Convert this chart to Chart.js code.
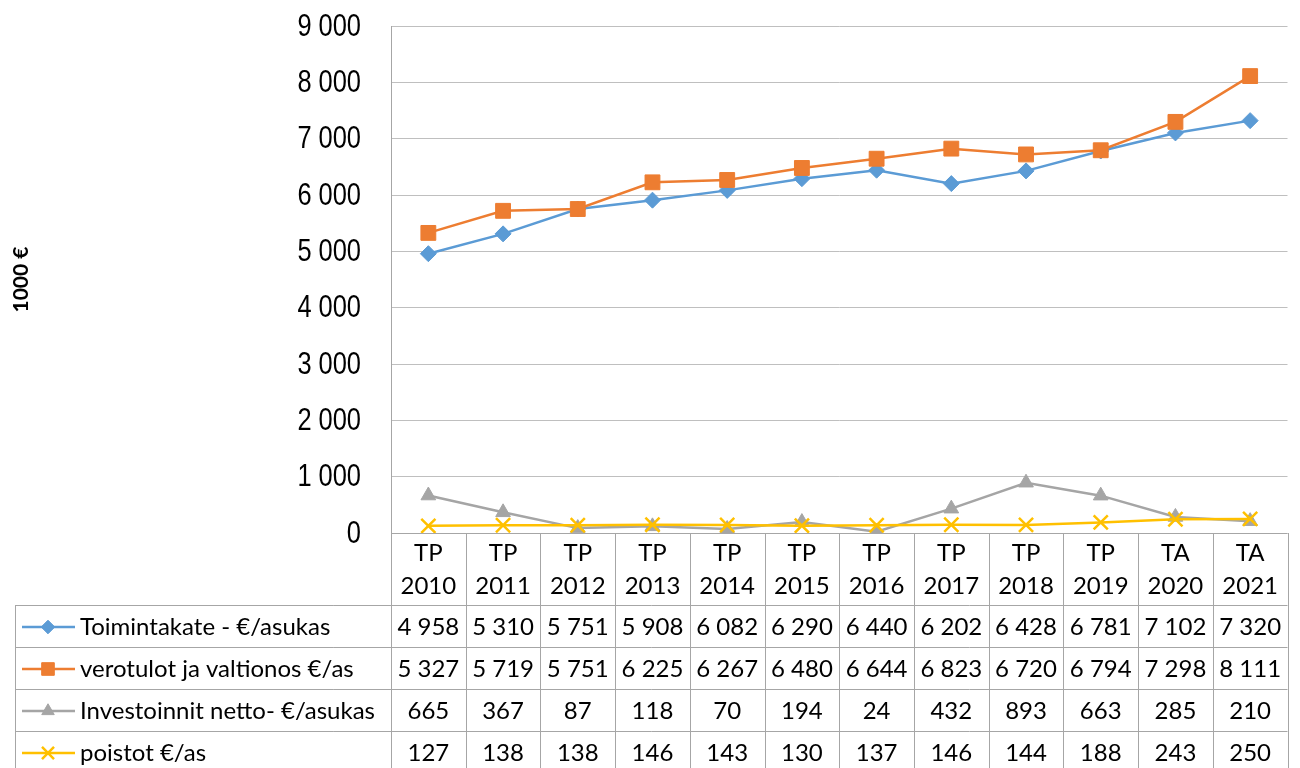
<!DOCTYPE html>
<html>
<head>
<meta charset="utf-8">
<script src="https://cdn.jsdelivr.net/npm/chart.js@4"></script>
<style>
  html, body { margin: 0; padding: 0; background: #fff; }
  #wrap { width: 1300px; height: 768px; }
</style>
</head>
<body>
<div id="wrap"><canvas id="chart" width="1300" height="768"></canvas></div>
<script>
// vuodet (kaksirivinen otsikko)
const categories = [
  ['TP', '2010'], ['TP', '2011'], ['TP', '2012'], ['TP', '2013'], ['TP', '2014'], ['TP', '2015'],
  ['TP', '2016'], ['TP', '2017'], ['TP', '2018'], ['TP', '2019'], ['TA', '2020'], ['TA', '2021'],
];
const toimintakate = [4958, 5310, 5751, 5908, 6082, 6290, 6440, 6202, 6428, 6781, 7102, 7320];
const verotulot = [5327, 5719, 5751, 6225, 6267, 6480, 6644, 6823, 6720, 6794, 7298, 8111];
const investoinnit = [665, 367, 87, 118, 70, 194, 24, 432, 893, 663, 285, 210];
const poistot = [127, 138, 138, 146, 143, 130, 137, 146, 144, 188, 243, 250];
const yTicks = [0, 1000, 2000, 3000, 4000, 5000, 6000, 7000, 8000, 9000];

const TABLE_FONT = '24px Lato, "Open Sans", sans-serif';
const TICK_FONT = '31px "Liberation Sans", Arial, sans-serif';
const LINE_GRAY = '#a6a6a6';

function fmt(n) {
  return String(n).replace(/\B(?=(\d{3})+(?!\d))/g, ' ');
}

const series = [
  { label: 'Toimintakate - €/asukas', data: toimintakate, color: '#5b9bd5', style: 'rectRot', radius: 8, bw: 1, order: 4 },
  { label: 'verotulot ja valtionos €/as', data: verotulot, color: '#ed7d31', style: 'rect', radius: 10.5, bw: 1, order: 3 },
  { label: 'Investoinnit netto- €/asukas', data: investoinnit, color: '#a5a5a5', style: 'triangle', radius: 8.5, bw: 1, order: 2 },
  { label: 'poistot €/as', data: poistot, color: '#ffc000', style: 'crossRot', radius: 10, bw: 2.5, order: 1 },
];

function drawMarker(ctx, s, x, y) {
  ctx.save();
  ctx.fillStyle = s.color;
  ctx.strokeStyle = s.color;
  ctx.lineWidth = s.bw;
  Chart.helpers.drawPoint(ctx, { pointStyle: s.style, radius: s.radius, borderWidth: s.bw }, x, y);
  ctx.restore();
}

// y-akselin luvut kavennettuna (Arial Narrow -tyyli)
const yLabels = {
  id: 'yLabels',
  afterDraw(chart) {
    const ctx = chart.ctx;
    const y = chart.scales.y;
    ctx.save();
    ctx.font = TICK_FONT;
    ctx.fillStyle = '#000';
    ctx.textAlign = 'right';
    ctx.textBaseline = 'middle';
    yTicks.forEach((v) => {
      ctx.save();
      ctx.translate(361, y.getPixelForValue(v) + 1);
      ctx.scale(0.82, 1);
      ctx.fillText(fmt(v), 0, 0);
      ctx.restore();
    });
    ctx.restore();
  },
};

// taulukko kaavion alle
const dataTable = {
  id: 'dataTable',
  afterDraw(chart) {
    const ctx = chart.ctx;
    const area = chart.chartArea;
    const x = chart.scales.x;
    const left = area.left, right = area.right, top = area.bottom;
    const colW = (right - left) / categories.length;
    const headBottom = top + 72;
    const rowH = 42;
    const tableLeft = 15;
    const bottom = chart.height + 2;

    ctx.save();
    ctx.strokeStyle = LINE_GRAY;
    ctx.lineWidth = 1;
    ctx.beginPath();
    ctx.moveTo(left, top + 0.5); ctx.lineTo(right, top + 0.5);
    for (let r = 0; r < series.length; r++) {
      const yy = Math.round(headBottom + r * rowH) + 0.5;
      ctx.moveTo(tableLeft, yy); ctx.lineTo(right, yy);
    }
    for (let i = 0; i <= categories.length; i++) {
      const xx = Math.round(left + i * colW) + 0.5;
      ctx.moveTo(xx, top); ctx.lineTo(xx, bottom);
    }
    ctx.moveTo(tableLeft + 0.5, headBottom); ctx.lineTo(tableLeft + 0.5, bottom);
    ctx.stroke();

    ctx.fillStyle = '#000';
    ctx.font = TABLE_FONT;
    ctx.textAlign = 'center';
    ctx.textBaseline = 'middle';
    categories.forEach((c, i) => {
      const cx = x.getPixelForValue(i);
      ctx.fillText(c[0], cx, top + 20);
      ctx.fillText(c[1], cx, top + 53);
    });

    series.forEach((s, r) => {
      const cy = headBottom + r * rowH + rowH / 2 + 1;
      ctx.fillStyle = '#000';
      ctx.textAlign = 'center';
      s.data.forEach((v, i) => {
        ctx.fillText(fmt(v), x.getPixelForValue(i), cy);
      });
      // selite
      ctx.strokeStyle = s.color;
      ctx.lineWidth = 2.5;
      ctx.beginPath();
      ctx.moveTo(22, cy); ctx.lineTo(75, cy);
      ctx.stroke();
      drawMarker(ctx, Object.assign({}, s, { radius: s.radius * 0.85 }), 48, cy);
      ctx.fillStyle = '#000';
      ctx.textAlign = 'left';
      ctx.fillText(s.label, 80, cy);
    });
    ctx.restore();
  },
};

new Chart(document.getElementById('chart'), {
  type: 'line',
  data: {
    labels: categories.map((c) => c.join(' ')),
    datasets: series.map((s) => ({
      label: s.label,
      data: s.data,
      borderColor: s.color,
      backgroundColor: s.color,
      borderWidth: 2.5,
      pointStyle: s.style,
      pointRadius: s.radius,
      pointBorderWidth: s.bw,
      pointHoverRadius: s.radius,
      order: s.order,
      tension: 0,
    })),
  },
  options: {
    responsive: false,
    animation: false,
    devicePixelRatio: 1,
    layout: { padding: { top: 26, right: 8, bottom: 235, left: 0 } },
    plugins: {
      legend: { display: false },
      tooltip: { enabled: false },
    },
    scales: {
      x: {
        display: false,
        offset: true,
      },
      y: {
        min: 0,
        max: 9000,
        afterBuildTicks: (scale) => { scale.ticks = yTicks.map((v) => ({ value: v })); },
        afterFit: (scale) => { scale.width = 391; },
        ticks: { display: false },
        grid: { color: '#bfbfbf', lineWidth: 1, drawTicks: false },
        border: { color: LINE_GRAY, width: 1 },
        title: {
          display: true,
          text: '1000 €',
          color: '#000',
          padding: { top: 9, bottom: 4 },
          font: { family: 'Lato, sans-serif', size: 21, weight: 'bold' },
        },
      },
    },
  },
  plugins: [yLabels, dataTable],
});
</script>
</body>
</html>
